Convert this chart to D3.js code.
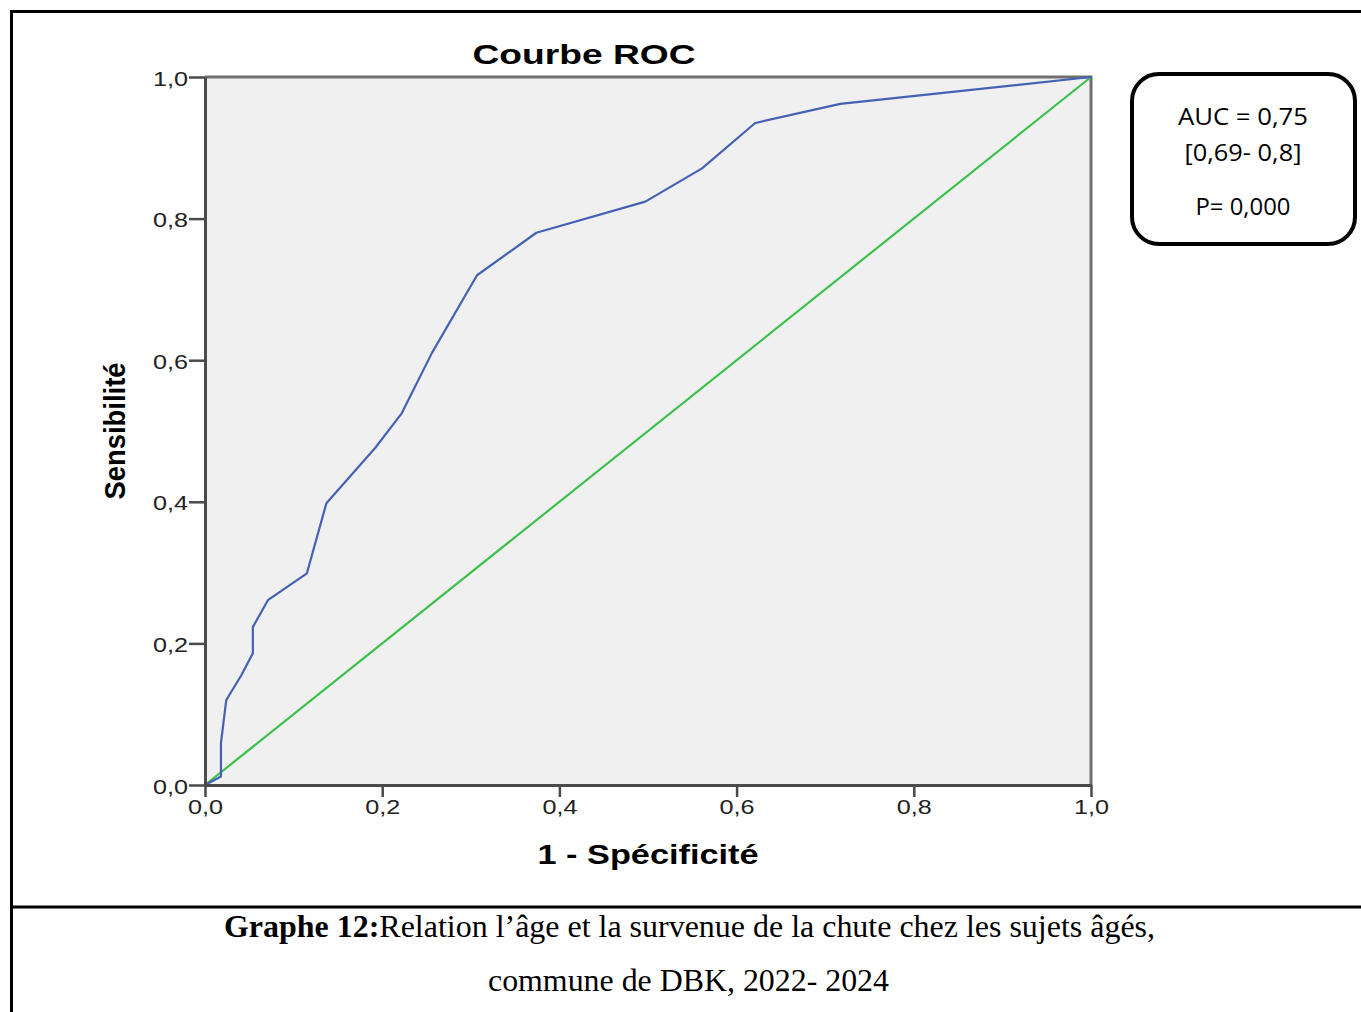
<!DOCTYPE html>
<html>
<head>
<meta charset="utf-8">
<script src="https://cdn.jsdelivr.net/npm/d3@7"></script>
<style>
  body { margin: 0; background: #fff; }
  svg { display: block; }
</style>
</head>
<body>
<svg id="chart" width="1361" height="1012"></svg>
<script>
// ---- data ----
const rocFpr = [0, 0.018, 0.018, 0.024, 0.041, 0.054, 0.054, 0.071, 0.115, 0.137, 0.192, 0.222, 0.256, 0.307, 0.374, 0.497, 0.561, 0.621, 0.717, 1.0];
const rocTpr = [0, 0.012, 0.059, 0.120, 0.155, 0.186, 0.223, 0.261, 0.299, 0.398, 0.476, 0.525, 0.610, 0.720, 0.780, 0.824, 0.871, 0.935, 0.962, 1.0];
const refFpr = [0, 1];
const refTpr = [0, 1];
const tickValues = [0, 0.2, 0.4, 0.6, 0.8, 1.0];
const tickLabels = ["0,0", "0,2", "0,4", "0,6", "0,8", "1,0"];
const chartTitle = "Courbe ROC";
const xTitle = "1 - Spécificité";
const yTitle = "Sensibilité";
const boxLines = ["AUC = 0,75", "[0,69- 0,8]", "P= 0,000"];
const captionBold = "Graphe 12:";
const captionLine1 = "Relation l’âge et la survenue de la chute chez les sujets âgés,";
const captionLine2 = "commune de DBK, 2022- 2024";

// ---- layout ----
const svg = d3.select("#chart");
const L = 205, R = 1091, T = 77, B = 785;
const x = d3.scaleLinear().domain([0, 1]).range([L, R]);
const y = d3.scaleLinear().domain([0, 1]).range([B, T]);

// outer frame
svg.append("line").attr("x1", 11.5).attr("x2", 1361).attr("y1", 11.5).attr("y2", 11.5)
  .attr("stroke", "#000").attr("stroke-width", 3);
svg.append("line").attr("x1", 11.5).attr("x2", 11.5).attr("y1", 10).attr("y2", 1012)
  .attr("stroke", "#000").attr("stroke-width", 3);
svg.append("line").attr("x1", 10).attr("x2", 1361).attr("y1", 907).attr("y2", 907)
  .attr("stroke", "#000").attr("stroke-width", 3);

// plot background
svg.append("rect").attr("x", L).attr("y", T).attr("width", R - L).attr("height", B - T)
  .attr("fill", "#f0f0f0");
// top & right frame
svg.append("path").attr("d", `M${L},${T}H${R}V${B}`)
  .attr("fill", "none").attr("stroke", "#6e6e6e").attr("stroke-width", 3);

// reference diagonal
const line = d3.line().x(d => x(d[0])).y(d => y(d[1]));
svg.append("path").datum(refFpr.map((v, i) => [v, refTpr[i]]))
  .attr("d", line).attr("fill", "none").attr("stroke", "#3ec04e").attr("stroke-width", 2.2);
// ROC curve
svg.append("path").datum(rocFpr.map((v, i) => [v, rocTpr[i]]))
  .attr("d", line).attr("fill", "none").attr("stroke", "#4461b4").attr("stroke-width", 2.2)
  .attr("stroke-linejoin", "round");

// axes
const fmt = d => tickLabels[tickValues.indexOf(d)];
const yAxis = svg.append("g").attr("transform", `translate(${L},0)`)
  .call(d3.axisLeft(y).tickValues(tickValues).tickFormat(fmt).tickSize(16).tickSizeOuter(0));
const xAxis = svg.append("g").attr("transform", `translate(0,${B})`)
  .call(d3.axisBottom(x).tickValues(tickValues).tickFormat(fmt).tickSize(12).tickSizeOuter(0));
[yAxis, xAxis].forEach(g => {
  g.select(".domain").attr("stroke", "#4a4a4a").attr("stroke-width", 3);
  g.selectAll(".tick line").attr("stroke", "#4a4a4a").attr("stroke-width", 2.5);
  g.selectAll(".tick text").attr("fill", "#222")
    .style("font-family", "'Liberation Sans', Arial, sans-serif").style("font-size", "20px")
    .attr("textLength", 35).attr("lengthAdjust", "spacingAndGlyphs");
});
yAxis.selectAll(".tick text").attr("x", -17).attr("dy", "0.4em");
xAxis.selectAll(".tick text").attr("y", 15).attr("dy", "0.71em");

// titles
svg.append("text").attr("x", 584).attr("y", 64).attr("text-anchor", "middle")
  .style("font-family", "'Liberation Sans', Arial, sans-serif").style("font-size", "28px").style("font-weight", "bold")
  .attr("textLength", 223).attr("lengthAdjust", "spacingAndGlyphs").text(chartTitle);
svg.append("text").attr("x", 648).attr("y", 864).attr("text-anchor", "middle")
  .style("font-family", "'Liberation Sans', Arial, sans-serif").style("font-size", "27px").style("font-weight", "bold")
  .attr("textLength", 221).attr("lengthAdjust", "spacingAndGlyphs").text(xTitle);
svg.append("text").attr("transform", "translate(125,431) rotate(-90)").attr("text-anchor", "middle")
  .style("font-family", "'Liberation Sans', Arial, sans-serif").style("font-size", "29px").style("font-weight", "bold")
  .attr("textLength", 137).attr("lengthAdjust", "spacingAndGlyphs").text(yTitle);

// AUC box
svg.append("rect").attr("x", 1132).attr("y", 74).attr("width", 223).attr("height", 170)
  .attr("rx", 27).attr("ry", 27).attr("fill", "#fff").attr("stroke", "#000").attr("stroke-width", 4);
const boxY = [125, 161, 215];
const boxW = [130, 117, 95];
boxLines.forEach((t, i) => {
  svg.append("text").attr("x", 1243).attr("y", boxY[i]).attr("text-anchor", "middle")
    .style("font-family", "'Open Sans', 'Noto Sans', sans-serif").style("font-size", "23px")
    .attr("textLength", boxW[i]).attr("lengthAdjust", "spacingAndGlyphs").text(t);
});

// caption
const cap1 = svg.append("text").attr("x", 224).attr("y", 937)
  .style("font-family", "'Liberation Serif', 'Times New Roman', serif").style("font-size", "31px")
  .attr("textLength", 931).attr("lengthAdjust", "spacingAndGlyphs");
cap1.append("tspan").style("font-weight", "bold").text(captionBold);
cap1.append("tspan").text(captionLine1);
svg.append("text").attr("x", 488).attr("y", 991)
  .style("font-family", "'Liberation Serif', 'Times New Roman', serif").style("font-size", "31px")
  .attr("textLength", 401).attr("lengthAdjust", "spacingAndGlyphs").text(captionLine2);
</script>
</body>
</html>
